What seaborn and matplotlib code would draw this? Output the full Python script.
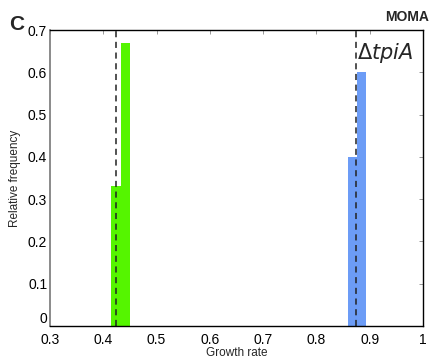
import seaborn as sns
import matplotlib.pyplot as plt

# Histogram bins and relative frequencies
green_edges = [0.415, 0.4325, 0.450]
green_freq = [0.33, 0.67]
blue_edges = [0.8585, 0.876, 0.8935]
blue_freq = [0.40, 0.60]
green_mean = 0.4235
blue_mean = 0.8735

xticks = [0.3, 0.4, 0.5, 0.6, 0.7, 0.8, 0.9, 1.0]
xtick_labels = ["0.3", "0.4", "0.5", "0.6", "0.7", "0.8", "0.9", "1"]
yticks = [0, 0.1, 0.2, 0.3, 0.4, 0.5, 0.6, 0.7]
ytick_labels = ["0", "0.1", "0.2", "0.3", "0.4", "0.5", "0.6", "0.7"]

sns.set_style("white")
plt.rcParams["font.family"] = ["Liberation Sans", "DejaVu Sans"]

fig = plt.figure(figsize=(4.36, 3.62), dpi=100)
ax = fig.add_axes([0.1147, 0.0994, 0.8555, 0.8177])

green_centers = [(a + b) / 2 for a, b in zip(green_edges[:-1], green_edges[1:])]
blue_centers = [(a + b) / 2 for a, b in zip(blue_edges[:-1], blue_edges[1:])]

sns.histplot(x=green_centers, weights=green_freq, bins=green_edges, ax=ax,
             color="#55f500", alpha=1, linewidth=0, stat="count")
sns.histplot(x=blue_centers, weights=blue_freq, bins=blue_edges, ax=ax,
             color="#6c9cf6", alpha=1, linewidth=0, stat="count")

for m in [green_mean, blue_mean]:
    ax.axvline(m, color="#222222", linestyle=(0, (4, 3)), linewidth=1.1)

ax.set_xlim(0.3, 1.0)
ax.set_ylim(0, 0.7)
ax.set_xticks(xticks)
ax.set_xticklabels(xtick_labels)
ax.set_yticks(yticks)
ax.set_yticklabels(ytick_labels)
ax.tick_params(direction="in", length=3, width=0.6, top=True, right=True,
               labelsize=10, pad=2, colors="#000000")
ax.tick_params(axis="x", pad=5)
ax.tick_params(axis="both", color="#888888")
# lift the "0" label a little so it clears the "0.3" below it
ax.get_yticklabels()[0].set_va("bottom")

for side in ["top", "right", "bottom"]:
    ax.spines[side].set_color("black")
    ax.spines[side].set_linewidth(1.0)
ax.spines["left"].set_color("#777777")
ax.spines["left"].set_linewidth(1.2)

ax.set_xlabel("Growth rate", fontsize=8.5, labelpad=0)
ax.set_ylabel("Relative frequency", fontsize=8.5, labelpad=5)

fig.text(0.02, 0.905, "C", fontsize=15, fontweight="bold", ha="left", va="bottom")
fig.text(0.985, 0.935, "MOMA", fontsize=10, fontweight="bold", ha="right", va="bottom")
ax.text(0.8755, 0.675, r"$\Delta$" + r"$\it{tpiA}$", fontsize=15, ha="left", va="top")

fig.savefig("out.png", dpi=100)
